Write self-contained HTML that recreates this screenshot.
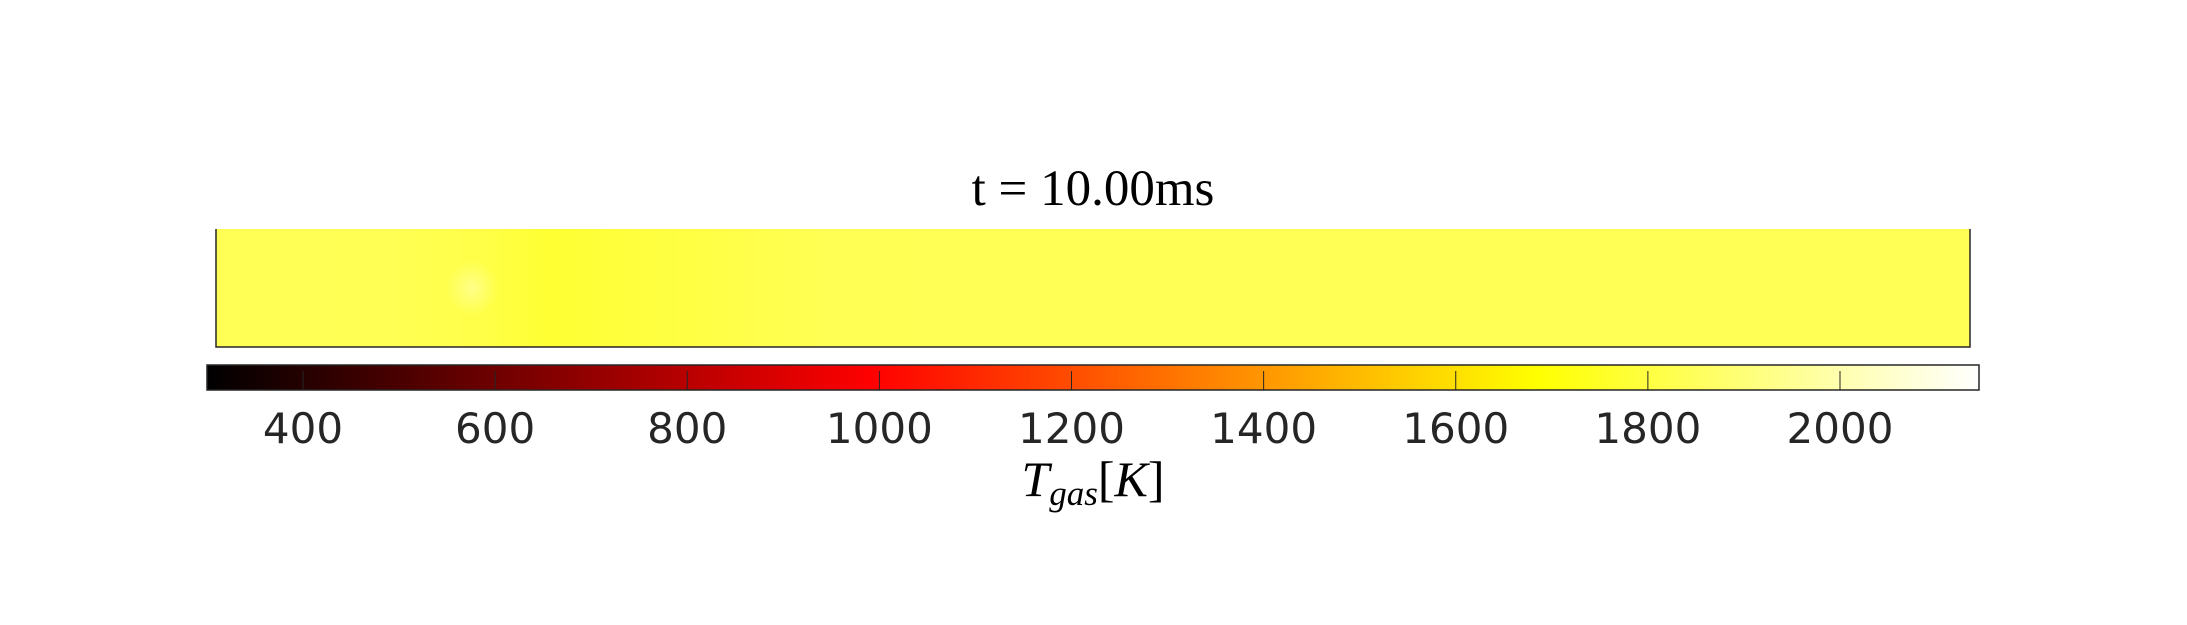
<!DOCTYPE html>
<html><head><meta charset="utf-8">
<style>
html,body{margin:0;padding:0;background:#fff;}
svg{display:block;}
.tick{font-family:"DejaVu Sans","Liberation Sans",sans-serif;font-size:42px;fill:#262626;}
.ser{font-family:"Liberation Serif","DejaVu Serif",serif;fill:#000;}
</style></head>
<body>
<svg id="chart" width="2187" height="625" viewBox="0 0 2187 625" xmlns="http://www.w3.org/2000/svg">
<defs>
  <linearGradient id="fieldGrad" x1="0" x2="1" y1="0" y2="0"></linearGradient>
  <linearGradient id="cbGrad" x1="0" x2="1" y1="0" y2="0"></linearGradient>
  <radialGradient id="spotGrad"></radialGradient>
</defs>
<text class="ser" x="1093" y="205" font-size="51" text-anchor="middle">t = 10.00ms</text>
<g id="field"></g>
<g id="cbar"></g>
<text class="ser" x="1093" y="496" font-size="50" font-style="italic" text-anchor="middle">T<tspan font-size="35" dy="9">gas</tspan><tspan dy="-9" font-style="normal">[</tspan>K<tspan font-style="normal">]</tspan></text>
</svg>
<script>
// data
const fieldPositions = [0, 0.1, 0.15, 0.19, 0.25, 0.35, 0.5, 1.0];
const fieldTemps = [1840, 1835, 1815, 1776, 1800, 1835, 1840, 1840];
const spotPos = [0.146, 0.5];
const spotTemp = [1930];
const cbTicks = [400, 600, 800, 1000, 1200, 1400, 1600, 1800, 2000];
const cbRange = [300, 2145];

const NS = "http://www.w3.org/2000/svg";
const plot = {x0: 216, x1: 1970, y0: 229, y1: 347};
const cb = {x0: 207, x1: 1979, y0: 365, y1: 390};
function xField(f){ return plot.x0 + f*(plot.x1-plot.x0); }
function yField(f){ return plot.y0 + f*(plot.y1-plot.y0); }
function xCb(v){ return 303 + (v-400)*(1840-303)/1600; }
function hot(T){
  let t = (T-cbRange[0])/(cbRange[1]-cbRange[0]);
  t = Math.max(0, Math.min(1, t));
  const r = Math.min(1, t/0.375), g = Math.max(0, Math.min(1, (t-0.375)/0.375)), b = Math.max(0, Math.min(1, (t-0.75)/0.25));
  return 'rgb(' + Math.round(r*255) + ',' + Math.round(g*255) + ',' + Math.round(b*255) + ')';
}
function mk(tag, attrs, parent){
  const e = document.createElementNS(NS, tag);
  for (const k in attrs) e.setAttribute(k, attrs[k]);
  parent.appendChild(e); return e;
}
const fg = document.getElementById('fieldGrad');
fieldPositions.forEach((p,i)=>{ mk('stop', {offset: p, 'stop-color': hot(fieldTemps[i])}, fg); });
const sg = document.getElementById('spotGrad');
mk('stop', {offset: 0, 'stop-color': hot(spotTemp[0]), 'stop-opacity': 1}, sg);
mk('stop', {offset: 1, 'stop-color': hot(spotTemp[0]), 'stop-opacity': 0}, sg);
const field = document.getElementById('field');
const fr = mk('rect', {x: plot.x0, y: plot.y0, width: plot.x1-plot.x0, height: plot.y1-plot.y0, fill: 'url(#fieldGrad)'}, field);


const sp = mk('ellipse', {cx: xField(spotPos[0]), cy: yField(spotPos[1]), rx: 26, ry: 28, fill: 'url(#spotGrad)'}, field);


const ax = mk('path', {d: 'M'+plot.x0+' '+plot.y0+'V'+plot.y1+'H'+plot.x1+'V'+plot.y0, fill: 'none', stroke: '#262626', 'stroke-width': 1.5}, field);


const cg = document.getElementById('cbGrad');
for (let i=0;i<=64;i++){ const T = cbRange[0] + i/64*(cbRange[1]-cbRange[0]); mk('stop', {offset: i/64, 'stop-color': hot(T)}, cg); }
const cbg = document.getElementById('cbar');
const cr = mk('rect', {x: cb.x0, y: cb.y0, width: cb.x1-cb.x0, height: cb.y1-cb.y0, fill: 'url(#cbGrad)', stroke: '#262626', 'stroke-width': 1.5}, cbg);


cbTicks.forEach(v=>{
  const x = xCb(v);
  const tl = mk('line', {x1: x, x2: x, y1: cb.y0+6, y2: cb.y1, stroke: '#262626', 'stroke-width': 1}, cbg);
  
  
  const tx = mk('text', {x: x, y: 443, 'text-anchor': 'middle', class: 'tick'}, cbg);
  tx.textContent = v;
  
  
});
</script>
</body></html>
